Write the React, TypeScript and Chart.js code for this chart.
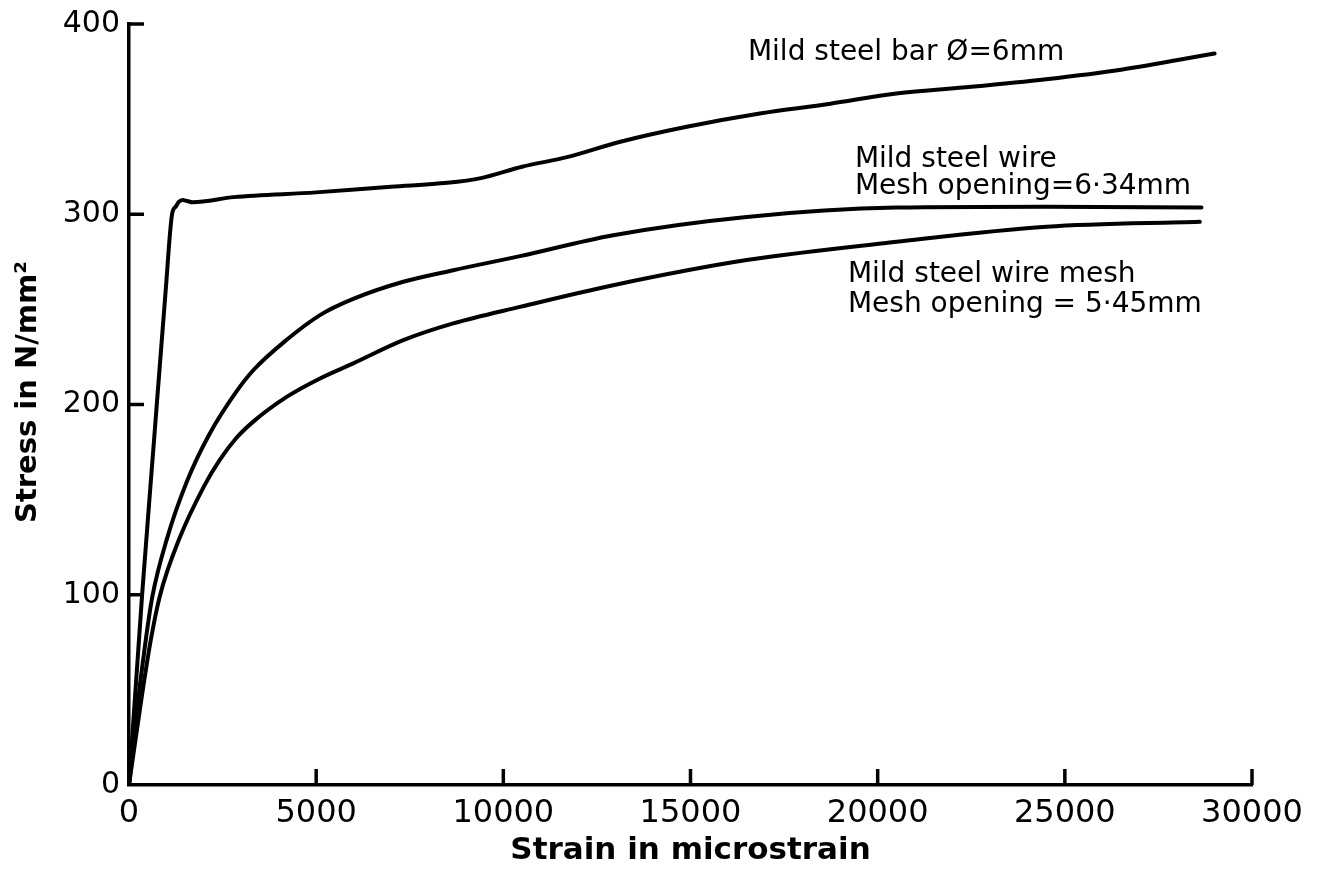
import React, { useEffect, useRef } from 'react';
import { Chart, registerables } from 'chart.js';

Chart.register(...registerables);

// Mild steel bar Ø=6mm
const barStrain = [0, 350, 668, 980, 1150, 1250, 1330, 1430, 1550, 1700, 2800, 5000, 7000, 8500, 9400, 10500, 11700, 13100, 14900, 16850, 18700, 20500, 22500, 24500, 26500, 29000];
const barStress = [0, 100, 181, 260, 300, 304, 306.5, 307.5, 307, 306.3, 309, 311.5, 314.5, 316.5, 319, 325, 330, 338, 346, 353, 358, 363.5, 367, 371, 376, 384.5];

// Mild steel wire, mesh opening 6.34mm
const wireStrain = [0, 222, 446, 623, 1023, 1557, 2137, 2877, 3320, 4212, 5102, 5990, 7327, 8662, 10444, 12935, 16500, 20505, 24500, 28650];
const wireStress = [0, 41, 76, 99, 130, 160, 184, 207, 218, 234, 247, 255.5, 264.5, 270.6, 278, 289, 298.6, 303.5, 304, 303.5];

// Mild steel wire mesh, mesh opening 5.45mm
const meshStrain = [0, 330, 580, 820, 1335, 2003, 2430, 2850, 3320, 4212, 5102, 5990, 7327, 8662, 10444, 12935, 16500, 20505, 24513, 28605];
const meshStress = [0, 45, 76, 99, 129, 157, 171, 182, 191, 204, 213.7, 221.6, 233.8, 242.6, 251.3, 262.7, 275.9, 285.5, 293.4, 296];

const xTicks = [0, 5000, 10000, 15000, 20000, 25000, 30000];
const yTicks = [0, 100, 200, 300, 400];

const xTitle = 'Strain in microstrain';
const yTitle = 'Stress in N/mm\u00B2';

const labels = [
  { text: 'Mild steel bar \u00D8=6mm', x: 16534, y: 381.3 },
  { text: 'Mild steel wire', x: 19392, y: 324.9 },
  { text: 'Mesh opening=6\u00B734mm', x: 19392, y: 310.9 },
  { text: 'Mild steel wire mesh', x: 19205, y: 264.5 },
  { text: 'Mesh opening = 5\u00B745mm', x: 19205, y: 248.7 },
];

const toPoints = (xs: number[], ys: number[]) => xs.map((x, i) => ({ x, y: ys[i] }));

export default function App() {
  const ref = useRef<HTMLCanvasElement>(null);

  useEffect(() => {
    if (!ref.current) return;
    const inward = {
      id: 'inwardTicksAndLabels',
      afterDraw(chart: any) {
        const { ctx, chartArea, scales } = chart;
        ctx.save();
        ctx.strokeStyle = '#000';
        ctx.lineWidth = 3.5;
        for (const v of xTicks) {
          if (v === 0) continue;
          const px = scales.x.getPixelForValue(v);
          ctx.beginPath();
          ctx.moveTo(px, chartArea.bottom);
          ctx.lineTo(px, chartArea.bottom - 16);
          ctx.stroke();
        }
        for (const v of yTicks) {
          if (v === 0) continue;
          const py = scales.y.getPixelForValue(v);
          ctx.beginPath();
          ctx.moveTo(chartArea.left, py);
          ctx.lineTo(chartArea.left + 15, py);
          ctx.stroke();
        }
        ctx.fillStyle = '#000';
        ctx.font = '28px "DejaVu Sans"';
        ctx.textAlign = 'left';
        ctx.textBaseline = 'alphabetic';
        for (const l of labels) {
          ctx.fillText(l.text, scales.x.getPixelForValue(l.x), scales.y.getPixelForValue(l.y));
        }
        // y axis title
        ctx.save();
        ctx.translate(28, 392);
        ctx.rotate(-Math.PI / 2);
        ctx.font = 'bold 29px "DejaVu Sans"';
        ctx.textAlign = 'center';
        ctx.textBaseline = 'middle';
        ctx.fillText(yTitle, 0, 0);
        ctx.restore();
        ctx.restore();
      },
    };

    const lineStyle = {
      borderColor: '#000',
      backgroundColor: '#000',
      borderWidth: 4,
      pointRadius: 0,
      showLine: true,
      fill: false,
      cubicInterpolationMode: 'monotone' as const,
      borderCapStyle: 'round' as const,
      borderJoinStyle: 'round' as const,
    };

    const chart = new Chart(ref.current, {
      type: 'scatter',
      data: {
        datasets: [
          { label: 'Mild steel bar', data: toPoints(barStrain, barStress), ...lineStyle },
          { label: 'Mild steel wire', data: toPoints(wireStrain, wireStress), ...lineStyle },
          { label: 'Mild steel wire mesh', data: toPoints(meshStrain, meshStress), ...lineStyle },
        ],
      },
      options: {
        animation: false,
        responsive: true,
        maintainAspectRatio: false,
        layout: { padding: { left: 0, right: 83, top: 24, bottom: 0 } },
        plugins: { legend: { display: false }, tooltip: { enabled: false } },
        scales: {
          x: {
            type: 'linear',
            min: 0,
            max: 30000,
            afterFit: (s: any) => { s.height = 88; },
            afterBuildTicks: (s: any) => { s.ticks = xTicks.map((v) => ({ value: v })); },
            grid: { display: false },
            border: { display: true, color: '#000', width: 3.5 },
            ticks: {
              color: '#000',
              font: { family: 'DejaVu Sans', size: 32 },
              padding: 1,
              maxRotation: 0,
              autoSkip: false,
              callback: (v: any) => String(v),
            },
            title: {
              display: true,
              text: xTitle,
              color: '#000',
              font: { family: 'DejaVu Sans', size: 31, weight: 'bold' },
              padding: { top: 0, bottom: 3 },
            },
          },
          y: {
            type: 'linear',
            min: 0,
            max: 400,
            afterFit: (s: any) => { s.width = 129; },
            afterBuildTicks: (s: any) => { s.ticks = yTicks.map((v) => ({ value: v })); },
            grid: { display: false },
            border: { display: true, color: '#000', width: 3.5 },
            ticks: {
              color: '#000',
              font: { family: 'DejaVu Sans', size: 30 },
              padding: 1,
              autoSkip: false,
              callback: (v: any) => String(v),
            },
            title: { display: false },
          },
        },
      },
      plugins: [inward],
    });
    return () => chart.destroy();
  }, []);

  return (
    <div style={{ position: 'absolute', left: 0, top: 0, width: 1335, height: 873, background: '#fff' }}>
      <canvas ref={ref} />
    </div>
  );
}
